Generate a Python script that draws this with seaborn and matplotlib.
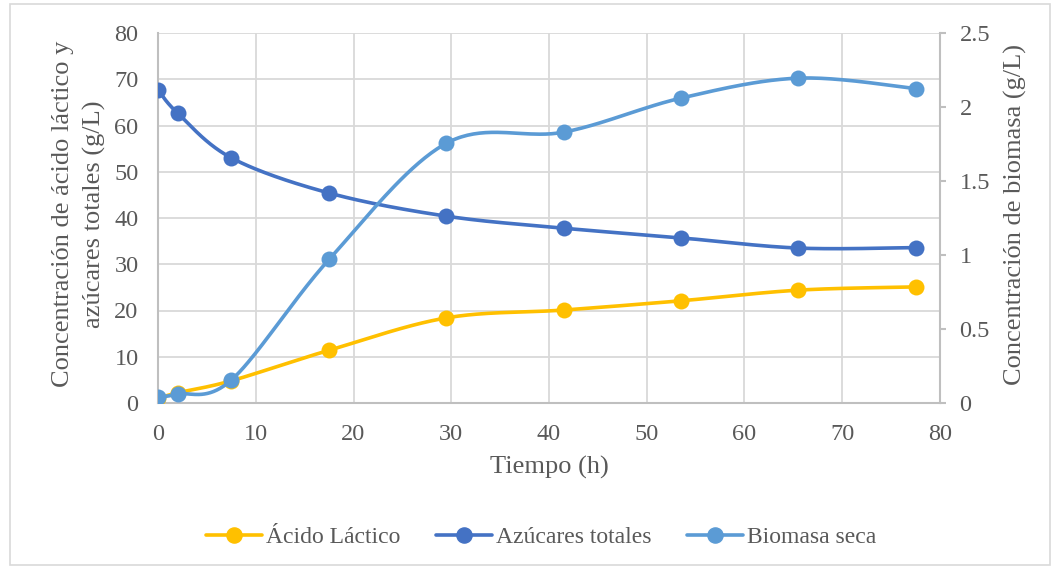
import numpy as np
import pandas as pd
import matplotlib
matplotlib.use("Agg")
import matplotlib.pyplot as plt
from matplotlib.lines import Line2D
from matplotlib.patches import Rectangle
import seaborn as sns

# Sampling times (h)
tiempo = [0, 2, 7.5, 17.5, 29.5, 41.5, 53.5, 65.5, 77.5]
# Lactic acid and total sugars (g/L), left axis
acido_lactico = [1.0, 2.2, 4.8, 11.4, 18.4, 20.1, 22.1, 24.4, 25.1]
azucares_totales = [67.7, 62.7, 53.0, 45.4, 40.4, 37.8, 35.7, 33.5, 33.6]
# Dry biomass (g/L), right axis
biomasa_seca = [0.04, 0.06, 0.155, 0.97, 1.755, 1.83, 2.06, 2.195, 2.125]

series_labels = ["Ácido Láctico", "Azúcares totales", "Biomasa seca"]
x_ticks = list(range(0, 81, 10))
left_ticks = list(range(0, 81, 10))
right_ticks = [0, 0.5, 1, 1.5, 2, 2.5]
right_tick_labels = ["0", "0.5", "1", "1.5", "2", "2.5"]

C_ACIDO = "#FFC000"
C_AZUCAR = "#4472C4"
C_BIOMASA = "#5B9BD5"
TEXT = "#595959"
GRID = "#D9D9D9"
SPINE = "#BFBFBF"

sns.set_theme(style="white")
plt.rcParams["font.family"] = ["Liberation Serif", "DejaVu Serif"]
plt.rcParams["text.color"] = TEXT


def smooth_curve(x, y, sx, sy, n=40):
    """Cubic Bezier smoothing through points (Excel-style), computed in scaled space."""
    P = np.column_stack([np.asarray(x, float) * sx, np.asarray(y, float) * sy])
    m = len(P)
    out = []
    t = np.linspace(0, 1, n)[:, None]
    for i in range(m - 1):
        p0 = P[max(i - 1, 0)]
        p1 = P[i]
        p2 = P[i + 1]
        p3 = P[min(i + 2, m - 1)]
        c1 = p1 + (p2 - p0) / 6.0
        c2 = p2 - (p3 - p1) / 6.0
        seg = ((1 - t) ** 3) * p1 + 3 * ((1 - t) ** 2) * t * c1 + 3 * (1 - t) * t ** 2 * c2 + t ** 3 * p2
        out.append(seg if i == 0 else seg[1:])
    out = np.vstack(out)
    return out[:, 0] / sx, out[:, 1] / sy


fig = plt.figure(figsize=(10.58, 5.69), dpi=100)
ax = fig.add_axes([158 / 1058, 1 - 403 / 569, 782 / 1058, 370 / 569])
ax2 = ax.twinx()

# pixel scales per data unit
sx = 782 / 80
sy_left = 370 / 80
sy_right = 370 / 2.5

lw = 2.6
ms = 11.5

for yvals, color, axis, sy in [
    (acido_lactico, C_ACIDO, ax, sy_left),
    (azucares_totales, C_AZUCAR, ax, sy_left),
]:
    xs, ys = smooth_curve(tiempo, yvals, sx, sy)
    sns.lineplot(x=xs, y=ys, ax=axis, color=color, linewidth=lw, sort=False,
                 estimator=None, zorder=3)
    sns.scatterplot(x=tiempo, y=yvals, ax=axis, color=color, s=ms ** 2,
                    edgecolor=color, linewidth=0, zorder=4)

xs, ys = smooth_curve(tiempo, biomasa_seca, sx, sy_right)
sns.lineplot(x=xs, y=ys, ax=ax2, color=C_BIOMASA, linewidth=lw, sort=False,
             estimator=None, zorder=3)
sns.scatterplot(x=tiempo, y=biomasa_seca, ax=ax2, color=C_BIOMASA, s=ms ** 2,
                edgecolor=C_BIOMASA, linewidth=0, zorder=4)

ax.set_xlim(0, 80)
ax.set_ylim(0, 80)
ax2.set_ylim(0, 2.5)
ax.set_xticks(x_ticks)
ax.set_yticks(left_ticks)
ax2.set_yticks(right_ticks)
ax2.set_yticklabels(right_tick_labels)

ax.grid(True, color=GRID, linewidth=1.3, zorder=0)
ax.set_axisbelow(True)
ax2.grid(False)

TICK_FS = 17.5
LABEL_FS = 19

for a in (ax, ax2):
    for s in a.spines.values():
        s.set_visible(False)
    a.tick_params(length=0, labelsize=TICK_FS, colors=TEXT)
for a, side in ((ax, "left"), (ax, "bottom"), (ax2, "right")):
    a.spines[side].set_visible(True)
    a.spines[side].set_color(SPINE)
    a.spines[side].set_linewidth(1.5)

ax.tick_params(axis="x", pad=15)
ax.tick_params(axis="y", pad=14)
# short outward marks on the secondary axis
ax2.tick_params(axis="y", length=4, width=1.5, color=SPINE, direction="out",
                pad=10, labelcolor=TEXT)

ax.set_xlabel("Tiempo (h)", fontsize=LABEL_FS, color=TEXT)
ax.set_ylabel("Concentración de ácido láctico y\nazúcares totales (g/L)",
              fontsize=LABEL_FS, color=TEXT, linespacing=1.45)
ax2.set_ylabel("Concentración de biomasa (g/L)", fontsize=LABEL_FS, color=TEXT)
for lab in (ax.xaxis.label, ax.yaxis.label, ax2.yaxis.label):
    lab.set_va("center")
    lab.set_ha("center")
ax.xaxis.set_label_coords(0.5, (403 - 467) / 370)
ax.yaxis.set_label_coords((79 - 158) / 782, 0.51)
ax2.yaxis.set_label_coords((1015 - 158) / 782, 0.51)

handles = [
    Line2D([0], [0], color=c, linewidth=lw, marker="o", markersize=ms * 0.95)
    for c in (C_ACIDO, C_AZUCAR, C_BIOMASA)
]
fig.legend(handles, series_labels, loc="center", bbox_to_anchor=(541 / 1058, 1 - 537 / 569),
           ncol=3, frameon=False, fontsize=17, handlelength=2.4, handletextpad=0.15,
           columnspacing=1.5, labelcolor=TEXT)

fig.patches.append(Rectangle((10 / 1058, 4 / 569), 1040 / 1058, 561 / 569,
                             transform=fig.transFigure, fill=False,
                             edgecolor=GRID, linewidth=1.2))

fig.savefig("out.png", dpi=100)
